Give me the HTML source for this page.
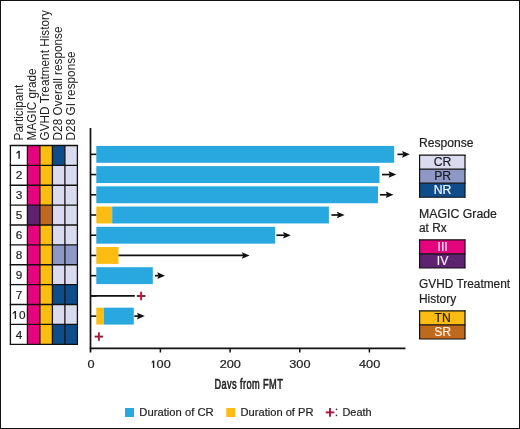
<!DOCTYPE html>
<html><head><meta charset="utf-8"><style>
html,body{margin:0;padding:0;background:#fff;}
#f{position:relative;width:520px;height:429px;box-sizing:border-box;border:1px solid #111;border-right-width:1.5px;border-bottom-width:1.5px;overflow:hidden;}
svg{position:absolute;left:-1px;top:-1px;font-family:"Liberation Sans", sans-serif;will-change:transform;}
</style></head><body><div id="f">
<svg width="520" height="429" viewBox="0 0 520 429">
<rect x="27.4" y="145.50" width="12.50" height="19.88" fill="#e4047e"/>
<rect x="39.9" y="145.50" width="12.50" height="19.88" fill="#fbbd12"/>
<rect x="52.4" y="145.50" width="12.50" height="19.88" fill="#0f4c8a"/>
<rect x="64.9" y="145.50" width="12.50" height="19.88" fill="#dadbee"/>
<path d="M19.80 150.85 L18.40 150.85 L16.40 152.55 L16.40 153.85 L18.40 152.60 L18.40 158.85 L19.80 158.85 Z" fill="#1e1e1e"/>
<rect x="27.4" y="165.38" width="12.50" height="19.88" fill="#e4047e"/>
<rect x="39.9" y="165.38" width="12.50" height="19.88" fill="#fbbd12"/>
<rect x="52.4" y="165.38" width="12.50" height="19.88" fill="#dadbee"/>
<rect x="64.9" y="165.38" width="12.50" height="19.88" fill="#dadbee"/>
<text x="18.95" y="178.86" text-anchor="middle" font-size="11.8" fill="#1e1e1e" stroke="#1e1e1e" stroke-width="0.2">2</text>
<rect x="27.4" y="185.26" width="12.50" height="19.88" fill="#e4047e"/>
<rect x="39.9" y="185.26" width="12.50" height="19.88" fill="#fbbd12"/>
<rect x="52.4" y="185.26" width="12.50" height="19.88" fill="#dadbee"/>
<rect x="64.9" y="185.26" width="12.50" height="19.88" fill="#dadbee"/>
<text x="18.95" y="198.87" text-anchor="middle" font-size="11.8" fill="#1e1e1e" stroke="#1e1e1e" stroke-width="0.2">3</text>
<rect x="27.4" y="205.14" width="12.50" height="19.88" fill="#5d2371"/>
<rect x="39.9" y="205.14" width="12.50" height="19.88" fill="#bf691c"/>
<rect x="52.4" y="205.14" width="12.50" height="19.88" fill="#dadbee"/>
<rect x="64.9" y="205.14" width="12.50" height="19.88" fill="#dadbee"/>
<text x="18.95" y="218.88" text-anchor="middle" font-size="11.8" fill="#1e1e1e" stroke="#1e1e1e" stroke-width="0.2">5</text>
<rect x="27.4" y="225.02" width="12.50" height="19.88" fill="#e4047e"/>
<rect x="39.9" y="225.02" width="12.50" height="19.88" fill="#fbbd12"/>
<rect x="52.4" y="225.02" width="12.50" height="19.88" fill="#dadbee"/>
<rect x="64.9" y="225.02" width="12.50" height="19.88" fill="#dadbee"/>
<text x="18.95" y="238.89" text-anchor="middle" font-size="11.8" fill="#1e1e1e" stroke="#1e1e1e" stroke-width="0.2">6</text>
<rect x="27.4" y="244.90" width="12.50" height="19.88" fill="#e4047e"/>
<rect x="39.9" y="244.90" width="12.50" height="19.88" fill="#fbbd12"/>
<rect x="52.4" y="244.90" width="12.50" height="19.88" fill="#8d98c4"/>
<rect x="64.9" y="244.90" width="12.50" height="19.88" fill="#8d98c4"/>
<text x="18.95" y="258.90" text-anchor="middle" font-size="11.8" fill="#1e1e1e" stroke="#1e1e1e" stroke-width="0.2">8</text>
<rect x="27.4" y="264.78" width="12.50" height="19.88" fill="#e4047e"/>
<rect x="39.9" y="264.78" width="12.50" height="19.88" fill="#fbbd12"/>
<rect x="52.4" y="264.78" width="12.50" height="19.88" fill="#dadbee"/>
<rect x="64.9" y="264.78" width="12.50" height="19.88" fill="#dadbee"/>
<text x="18.95" y="278.91" text-anchor="middle" font-size="11.8" fill="#1e1e1e" stroke="#1e1e1e" stroke-width="0.2">9</text>
<rect x="27.4" y="284.66" width="12.50" height="19.88" fill="#e4047e"/>
<rect x="39.9" y="284.66" width="12.50" height="19.88" fill="#fbbd12"/>
<rect x="52.4" y="284.66" width="12.50" height="19.88" fill="#0f4c8a"/>
<rect x="64.9" y="284.66" width="12.50" height="19.88" fill="#0f4c8a"/>
<text x="18.95" y="298.92" text-anchor="middle" font-size="11.8" fill="#1e1e1e" stroke="#1e1e1e" stroke-width="0.2">7</text>
<rect x="27.4" y="304.54" width="12.50" height="19.88" fill="#e4047e"/>
<rect x="39.9" y="304.54" width="12.50" height="19.88" fill="#fbbd12"/>
<rect x="52.4" y="304.54" width="12.50" height="19.88" fill="#dadbee"/>
<rect x="64.9" y="304.54" width="12.50" height="19.88" fill="#dadbee"/>
<path d="M16.10 310.93 L14.70 310.93 L12.70 312.63 L12.70 313.93 L14.70 312.68 L14.70 318.93 L16.10 318.93 Z" fill="#1e1e1e"/>
<text x="18.95" y="318.93" font-size="11.8" fill="#1e1e1e" stroke="#1e1e1e" stroke-width="0.2">0</text>
<rect x="27.4" y="324.42" width="12.50" height="19.88" fill="#e4047e"/>
<rect x="39.9" y="324.42" width="12.50" height="19.88" fill="#fbbd12"/>
<rect x="52.4" y="324.42" width="12.50" height="19.88" fill="#0f4c8a"/>
<rect x="64.9" y="324.42" width="12.50" height="19.88" fill="#0f4c8a"/>
<text x="18.95" y="338.94" text-anchor="middle" font-size="11.8" fill="#1e1e1e" stroke="#1e1e1e" stroke-width="0.2">4</text>
<line x1="10.4" y1="145.50" x2="10.4" y2="344.30" stroke="#111" stroke-width="1.3"/>
<line x1="27.4" y1="145.50" x2="27.4" y2="344.30" stroke="#111" stroke-width="1.3"/>
<line x1="39.9" y1="145.50" x2="39.9" y2="344.30" stroke="#111" stroke-width="1.3"/>
<line x1="52.4" y1="145.50" x2="52.4" y2="344.30" stroke="#111" stroke-width="1.3"/>
<line x1="64.9" y1="145.50" x2="64.9" y2="344.30" stroke="#111" stroke-width="1.3"/>
<line x1="77.4" y1="145.50" x2="77.4" y2="344.30" stroke="#111" stroke-width="1.3"/>
<line x1="9.75" y1="145.50" x2="78.05" y2="145.50" stroke="#111" stroke-width="1.35"/>
<line x1="9.75" y1="165.38" x2="78.05" y2="165.38" stroke="#111" stroke-width="1.35"/>
<line x1="9.75" y1="185.26" x2="78.05" y2="185.26" stroke="#111" stroke-width="1.35"/>
<line x1="9.75" y1="205.14" x2="78.05" y2="205.14" stroke="#111" stroke-width="1.35"/>
<line x1="9.75" y1="225.02" x2="78.05" y2="225.02" stroke="#111" stroke-width="1.35"/>
<line x1="9.75" y1="244.90" x2="78.05" y2="244.90" stroke="#111" stroke-width="1.35"/>
<line x1="9.75" y1="264.78" x2="78.05" y2="264.78" stroke="#111" stroke-width="1.35"/>
<line x1="9.75" y1="284.66" x2="78.05" y2="284.66" stroke="#111" stroke-width="1.35"/>
<line x1="9.75" y1="304.54" x2="78.05" y2="304.54" stroke="#111" stroke-width="1.35"/>
<line x1="9.75" y1="324.42" x2="78.05" y2="324.42" stroke="#111" stroke-width="1.35"/>
<line x1="9.75" y1="344.30" x2="78.05" y2="344.30" stroke="#111" stroke-width="1.35"/>
<text transform="translate(22.6,140.4) rotate(-90) scale(1,1.04)" font-size="11.8" fill="#222" stroke="none">Participant</text>
<text transform="translate(35.9,140.4) rotate(-90) scale(1,1.04)" font-size="11.8" fill="#222" stroke="none">MAGIC grade</text>
<text transform="translate(48.9,140.4) rotate(-90) scale(1,1.04)" font-size="11.8" fill="#222" stroke="none">GVHD Treatment History</text>
<text transform="translate(62.0,140.4) rotate(-90) scale(1,1.04)" font-size="11.8" fill="#222" stroke="none">D28 Overall response</text>
<text transform="translate(74.8,140.4) rotate(-90) scale(1,1.04)" font-size="11.8" fill="#222" stroke="none">D28 GI response</text>
<line x1="90.5" y1="128" x2="90.5" y2="352.5" stroke="#111" stroke-width="1.7"/>
<line x1="89.7" y1="348.3" x2="405.5" y2="348.3" stroke="#111" stroke-width="1.8"/>
<line x1="160.4" y1="348" x2="160.4" y2="352.5" stroke="#111" stroke-width="1.5"/>
<line x1="230.1" y1="348" x2="230.1" y2="352.5" stroke="#111" stroke-width="1.5"/>
<line x1="299.8" y1="348" x2="299.8" y2="352.5" stroke="#111" stroke-width="1.5"/>
<line x1="369.4" y1="348" x2="369.4" y2="352.5" stroke="#111" stroke-width="1.5"/>
<text transform="translate(91.0,368) scale(1.15,1.02)" text-anchor="middle" font-size="11.1" fill="#222" stroke="#222" stroke-width="0.2">0</text>
<text transform="translate(230.3,368) scale(1.15,1.02)" text-anchor="middle" font-size="11.1" fill="#222" stroke="#222" stroke-width="0.2">200</text>
<text transform="translate(299.9,368) scale(1.15,1.02)" text-anchor="middle" font-size="11.1" fill="#222" stroke="#222" stroke-width="0.2">300</text>
<text transform="translate(369.6,368) scale(1.15,1.02)" text-anchor="middle" font-size="11.1" fill="#222" stroke="#222" stroke-width="0.2">400</text>
<path d="M154.30 360.40 L152.90 360.40 L151.70 362.10 L151.70 363.40 L152.90 362.15 L152.90 367.90 L154.30 367.90 Z" fill="#222"/>
<text transform="translate(156.6,368) scale(1.15,1.02)" font-size="11.1" fill="#222" stroke="#222" stroke-width="0.2">00</text>
<line x1="90.5" y1="154.35" x2="96.5" y2="154.35" stroke="#111" stroke-width="1.6"/>
<line x1="90.5" y1="174.57" x2="96.5" y2="174.57" stroke="#111" stroke-width="1.6"/>
<line x1="90.5" y1="194.79" x2="96.5" y2="194.79" stroke="#111" stroke-width="1.6"/>
<line x1="90.5" y1="215.01" x2="96.5" y2="215.01" stroke="#111" stroke-width="1.6"/>
<line x1="90.5" y1="235.23" x2="96.5" y2="235.23" stroke="#111" stroke-width="1.6"/>
<line x1="90.5" y1="255.45" x2="96.5" y2="255.45" stroke="#111" stroke-width="1.6"/>
<line x1="90.5" y1="275.67" x2="96.5" y2="275.67" stroke="#111" stroke-width="1.6"/>
<line x1="90.5" y1="295.89" x2="96.5" y2="295.89" stroke="#111" stroke-width="1.6"/>
<line x1="90.5" y1="316.11" x2="96.5" y2="316.11" stroke="#111" stroke-width="1.6"/>
<rect x="96.3" y="145.90" width="297.90" height="16.90" fill="#29a7df"/>
<line x1="397.5" y1="154.35" x2="403.60" y2="154.35" stroke="#111" stroke-width="1.7"/>
<path d="M409.8 154.35 L402.10 151.05 L403.30 154.35 L402.10 157.65 Z" fill="#111"/>
<rect x="96.3" y="166.12" width="283.20" height="16.90" fill="#29a7df"/>
<line x1="382" y1="174.57" x2="390.10" y2="174.57" stroke="#111" stroke-width="1.7"/>
<path d="M396.3 174.57 L388.60 171.27 L389.80 174.57 L388.60 177.87 Z" fill="#111"/>
<rect x="96.3" y="186.34" width="281.70" height="16.90" fill="#29a7df"/>
<line x1="380" y1="194.79" x2="387.30" y2="194.79" stroke="#111" stroke-width="1.7"/>
<path d="M393.5 194.79 L385.80 191.49 L387.00 194.79 L385.80 198.09 Z" fill="#111"/>
<rect x="96.3" y="206.56" width="15.90" height="16.90" fill="#fbbd12"/>
<rect x="112.2" y="206.56" width="216.70" height="16.90" fill="#29a7df"/>
<line x1="331.4" y1="215.01" x2="338.40" y2="215.01" stroke="#111" stroke-width="1.7"/>
<path d="M344.6 215.01 L336.90 211.71 L338.10 215.01 L336.90 218.31 Z" fill="#111"/>
<rect x="96.3" y="226.78" width="178.70" height="16.90" fill="#29a7df"/>
<line x1="276.4" y1="235.23" x2="284.60" y2="235.23" stroke="#111" stroke-width="1.7"/>
<path d="M290.8 235.23 L283.10 231.93 L284.30 235.23 L283.10 238.53 Z" fill="#111"/>
<rect x="96.3" y="247.00" width="22.20" height="16.90" fill="#fbbd12"/>
<line x1="118.5" y1="255.45" x2="243.40" y2="255.45" stroke="#111" stroke-width="1.7"/>
<path d="M249.6 255.45 L241.90 252.15 L243.10 255.45 L241.90 258.75 Z" fill="#111"/>
<rect x="96.3" y="267.22" width="56.50" height="16.90" fill="#29a7df"/>
<line x1="155" y1="275.67" x2="158.80" y2="275.67" stroke="#111" stroke-width="1.7"/>
<path d="M165 275.67 L157.30 272.37 L158.50 275.67 L157.30 278.97 Z" fill="#111"/>
<line x1="90.5" y1="295.89" x2="134.8" y2="295.89" stroke="#111" stroke-width="1.7"/>
<path d="M136.80 295.99 H145.40" stroke="#8a1a2e" stroke-width="1.9"/>
<path d="M141.10 291.69 V300.29" stroke="#c8123e" stroke-width="1.9"/>
<rect x="96.3" y="307.66" width="7.70" height="16.90" fill="#fbbd12"/>
<rect x="104" y="307.66" width="29.80" height="16.90" fill="#29a7df"/>
<line x1="134.3" y1="316.11" x2="138.50" y2="316.11" stroke="#111" stroke-width="1.7"/>
<path d="M144.7 316.11 L137.00 312.81 L138.20 316.11 L137.00 319.41 Z" fill="#111"/>
<path d="M94.70 336.60 H103.10" stroke="#8a1a30" stroke-width="1.9"/>
<path d="M98.90 332.40 V340.80" stroke="#b01a3c" stroke-width="1.9"/>
<clipPath id="cx"><rect x="200" y="370" width="100" height="19.1"/></clipPath>
<g clip-path="url(#cx)"><text transform="translate(214.4,388.7) scale(0.66,1.03)" font-size="14" letter-spacing="0.6" stroke="#222" stroke-width="0.6" fill="#222">Days from FMT</text></g>
<text transform="translate(419,147.2) scale(1,1.01)" font-size="12.1" fill="#222" text-anchor="start" stroke="#222" stroke-width="0.2">Response</text>
<rect x="419.6" y="155.10" width="45.4" height="14.05" fill="#dadbee"/>
<text transform="translate(442.6,166.2) scale(1,1.0)" font-size="12.2" fill="#1c1c24" text-anchor="middle" stroke="#1c1c24" stroke-width="0.2">CR</text>
<rect x="419.6" y="169.15" width="45.4" height="14.05" fill="#8d98c4"/>
<text transform="translate(442.6,180.25) scale(1,1.0)" font-size="12.2" fill="#1c1c24" text-anchor="middle" stroke="#1c1c24" stroke-width="0.2">PR</text>
<rect x="419.6" y="183.20" width="45.4" height="14.05" fill="#0f4c8a"/>
<text transform="translate(442.6,194.3) scale(1,1.0)" font-size="12.2" fill="#f2f8ff" text-anchor="middle" stroke="#f2f8ff" stroke-width="0.2">NR</text>
<line x1="418.9" y1="155.10" x2="465.7" y2="155.10" stroke="#111" stroke-width="1.2"/>
<line x1="418.9" y1="169.15" x2="465.7" y2="169.15" stroke="#111" stroke-width="1.2"/>
<line x1="418.9" y1="183.20" x2="465.7" y2="183.20" stroke="#111" stroke-width="1.2"/>
<line x1="418.9" y1="197.25" x2="465.7" y2="197.25" stroke="#111" stroke-width="1.2"/>
<line x1="419.6" y1="155.1" x2="419.6" y2="197.25" stroke="#111" stroke-width="1.2"/>
<line x1="465" y1="155.1" x2="465" y2="197.25" stroke="#111" stroke-width="1.2"/>
<text transform="translate(419,217.5) scale(1,1.01)" font-size="12.3" fill="#222" text-anchor="start" stroke="#222" stroke-width="0.2">MAGIC Grade</text>
<text transform="translate(419,232.2) scale(1,1.01)" font-size="11.9" fill="#222" text-anchor="start" stroke="#222" stroke-width="0.2">at Rx</text>
<rect x="419.6" y="239.80" width="45.4" height="14.1" fill="#e4047e"/>
<text transform="translate(442.6,250.9) scale(1,1.0)" font-size="12.2" fill="#fde8f4" text-anchor="middle" stroke="#fde8f4" stroke-width="0.2">III</text>
<rect x="419.6" y="253.90" width="45.4" height="14.1" fill="#5d2371"/>
<text transform="translate(442.6,265.0) scale(1,1.0)" font-size="12.2" fill="#f4ecf8" text-anchor="middle" stroke="#f4ecf8" stroke-width="0.2">IV</text>
<line x1="418.9" y1="239.80" x2="465.7" y2="239.80" stroke="#111" stroke-width="1.2"/>
<line x1="418.9" y1="253.90" x2="465.7" y2="253.90" stroke="#111" stroke-width="1.2"/>
<line x1="418.9" y1="268.00" x2="465.7" y2="268.00" stroke="#111" stroke-width="1.2"/>
<line x1="419.6" y1="239.8" x2="419.6" y2="268.00" stroke="#111" stroke-width="1.2"/>
<line x1="465" y1="239.8" x2="465" y2="268.00" stroke="#111" stroke-width="1.2"/>
<text transform="translate(419,287.9) scale(1,1.01)" font-size="11.9" fill="#222" text-anchor="start" stroke="#222" stroke-width="0.2">GVHD Treatment</text>
<text transform="translate(419,302.8) scale(1,1.01)" font-size="11.95" fill="#222" text-anchor="start" stroke="#222" stroke-width="0.2">History</text>
<rect x="419.6" y="310.80" width="45.4" height="14.1" fill="#fbbd12"/>
<text transform="translate(442.6,321.9) scale(1,1.0)" font-size="12.2" fill="#2a1c08" text-anchor="middle" stroke="#2a1c08" stroke-width="0.2">TN</text>
<rect x="419.6" y="324.90" width="45.4" height="14.1" fill="#bf691c"/>
<text transform="translate(442.6,336) scale(1,1.0)" font-size="12.2" fill="#fff2e0" text-anchor="middle" stroke="#fff2e0" stroke-width="0.2">SR</text>
<line x1="418.9" y1="310.80" x2="465.7" y2="310.80" stroke="#111" stroke-width="1.2"/>
<line x1="418.9" y1="324.90" x2="465.7" y2="324.90" stroke="#111" stroke-width="1.2"/>
<line x1="418.9" y1="339.00" x2="465.7" y2="339.00" stroke="#111" stroke-width="1.2"/>
<line x1="419.6" y1="310.8" x2="419.6" y2="339.00" stroke="#111" stroke-width="1.2"/>
<line x1="465" y1="310.8" x2="465" y2="339.00" stroke="#111" stroke-width="1.2"/>
<rect x="125" y="408" width="9" height="9" fill="#29a7df"/>
<text transform="translate(139.3,415.8) scale(1,1.01)" font-size="11.25" fill="#222" text-anchor="start" stroke="#222" stroke-width="0.2">Duration of CR</text>
<rect x="226.3" y="408" width="9" height="9" fill="#fbbd12"/>
<text transform="translate(240.5,415.8) scale(1,1.01)" font-size="11.15" fill="#222" text-anchor="start" stroke="#222" stroke-width="0.2">Duration of PR</text>
<path d="M325.70 412.40 H334.30" stroke="#a8163a" stroke-width="1.9"/>
<path d="M330.00 408.10 V416.70" stroke="#a8163a" stroke-width="1.9"/>
<circle cx="336.5" cy="409.3" r="0.85" fill="#333"/><circle cx="336.5" cy="415.3" r="0.85" fill="#333"/>
<text transform="translate(342.4,415.8) scale(1,1.01)" font-size="10.95" fill="#222" text-anchor="start" stroke="#222" stroke-width="0.2">Death</text>
</svg></div></body></html>
